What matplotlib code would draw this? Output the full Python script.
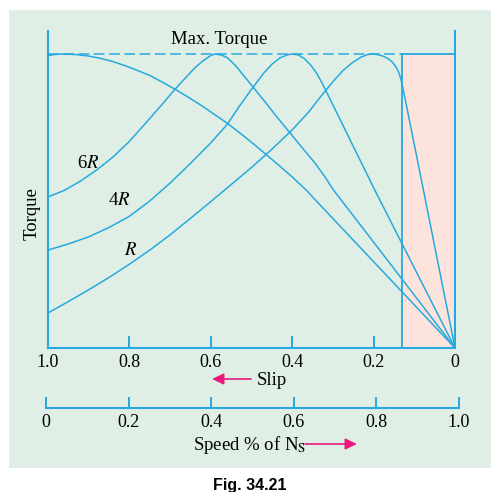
import matplotlib.pyplot as plt
from matplotlib.patches import Rectangle, FancyArrowPatch

plt.rcParams['font.family'] = 'Liberation Serif'
plt.rcParams['mathtext.fontset'] = 'stix'

W, H = 496, 492
BLUE = '#27a9df'
MAGENTA = '#e8197f'
GREEN_BG = '#e0efe5'
PINK_BG = '#fce4dc'

# torque/slip curves, torque as fraction of max torque
slip_a = [1.0, 0.98, 0.96, 0.93, 0.90, 0.87, 0.84, 0.81, 0.78, 0.75, 0.72, 0.69,
          0.66, 0.63, 0.60, 0.56, 0.53, 0.50, 0.47, 0.44, 0.40, 0.364, 0.344, 0.0]
torq_a = [0.995, 0.999, 1.0, 0.998, 0.993, 0.985, 0.974, 0.960, 0.944, 0.927, 0.905, 0.882,
          0.857, 0.831, 0.803, 0.765, 0.733, 0.700, 0.665, 0.630, 0.582, 0.535, 0.505, 0.0]

slip_6r = [1.0, 0.96, 0.92, 0.88, 0.84, 0.80, 0.76, 0.72, 0.69, 0.66, 0.64, 0.62,
           0.60, 0.59, 0.575, 0.56, 0.54, 0.52, 0.50, 0.47, 0.44, 0.405, 0.37, 0.344,
           0.32, 0.30, 0.0]
torq_6r = [0.514, 0.536, 0.568, 0.606, 0.650, 0.703, 0.765, 0.828, 0.877, 0.922, 0.952, 0.976,
           0.995, 1.0, 0.997, 0.988, 0.962, 0.928, 0.894, 0.843, 0.790, 0.731, 0.672, 0.629,
           0.583, 0.540, 0.0]

slip_4r = [1.0, 0.95, 0.90, 0.85, 0.80, 0.75, 0.70, 0.65, 0.60, 0.56, 0.53, 0.50,
           0.47, 0.45, 0.43, 0.41, 0.40, 0.385, 0.37, 0.355, 0.34, 0.325, 0.31, 0.197, 0.0]
torq_4r = [0.333, 0.354, 0.378, 0.410, 0.448, 0.500, 0.561, 0.628, 0.698, 0.760, 0.822, 0.880,
           0.935, 0.965, 0.987, 0.998, 1.0, 0.997, 0.984, 0.963, 0.935, 0.897, 0.855, 0.537, 0.0]

slip_r = [1.0, 0.95, 0.90, 0.85, 0.80, 0.75, 0.70, 0.65, 0.60, 0.55, 0.50, 0.45,
          0.40, 0.36, 0.33, 0.30, 0.275, 0.25, 0.23, 0.215, 0.204, 0.19, 0.177, 0.165,
          0.155, 0.147, 0.140, 0.134, 0.128, 0.12, 0.081, 0.0]
torq_r = [0.119, 0.158, 0.198, 0.240, 0.285, 0.333, 0.385, 0.441, 0.498, 0.556, 0.614, 0.676,
          0.742, 0.802, 0.855, 0.906, 0.944, 0.973, 0.990, 0.998, 1.0, 0.998, 0.993, 0.985,
          0.974, 0.960, 0.943, 0.920, 0.885, 0.830, 0.561, 0.0]

stall_slip = 0.13
max_torque = 1.0

slip_ticks = [1.0, 0.8, 0.6, 0.4, 0.2, 0.0]
slip_labels = ['1.0', '0.8', '0.6', '0.4', '0.2', '0']
speed_ticks = [0.0, 0.2, 0.4, 0.6, 0.8, 1.0]
speed_labels = ['0', '0.2', '0.4', '0.6', '0.8', '1.0']

curve_labels = [('6$R$', 0.902, 0.629), ('4$R$', 0.826, 0.503), ('$R$', 0.796, 0.330)]


def fx(x):
    return x / W


def fy(y):
    return 1 - y / H


fig = plt.figure(figsize=(W / 100, H / 100), dpi=100)
fig.patches.append(Rectangle((fx(9), fy(468)), 482 / W, 458 / H, transform=fig.transFigure,
                             facecolor=GREEN_BG, edgecolor='none', zorder=-5))

ax = fig.add_axes([fx(48), fy(348), 407 / W, 317.5 / H])
ax.patch.set_visible(False)
ax.set_xlim(1, 0)
ax.set_ylim(0, 1.08)

ax.fill_between([0, stall_slip], 0, max_torque, color=PINK_BG, lw=0, zorder=0)
ax.plot([stall_slip, stall_slip], [0, max_torque], color=BLUE, lw=1.3)
ax.plot([1.0, stall_slip], [max_torque, max_torque], color=BLUE, lw=1.1, dashes=(7, 3))
ax.plot([stall_slip, 0], [max_torque, max_torque], color=BLUE, lw=1.3)

for s, t in [(slip_a, torq_a), (slip_6r, torq_6r), (slip_4r, torq_4r), (slip_r, torq_r)]:
    ax.plot(s, t, color=BLUE, lw=1.1, solid_joinstyle='round')

for txt, s, t in curve_labels:
    ax.text(s, t, txt, fontsize=13.5, ha='center', va='center')

for side in ['left', 'right', 'bottom']:
    ax.spines[side].set_color(BLUE)
    ax.spines[side].set_linewidth(1.5)
ax.spines['top'].set_visible(False)
ax.set_yticks([])
ax.set_xticks(slip_ticks)
ax.set_xticklabels(slip_labels)
ax.tick_params(axis='x', direction='in', length=8.5, width=1.4, color=BLUE,
               labelsize=13, pad=4)

# speed scale underneath
ax2 = fig.add_axes([fx(46), fy(408), 413 / W, 0.001])
ax2.patch.set_visible(False)
for side in ['left', 'right', 'top']:
    ax2.spines[side].set_visible(False)
ax2.spines['bottom'].set_color(BLUE)
ax2.spines['bottom'].set_linewidth(1.5)
ax2.set_xlim(0, 1)
ax2.set_yticks([])
ax2.set_xticks(speed_ticks)
ax2.set_xticklabels(speed_labels)
ax2.tick_params(axis='x', direction='in', length=8, width=1.4, color=BLUE,
                labelsize=13, pad=4)

fig.text(fx(219), fy(43.5), 'Max. Torque', fontsize=13.5, ha='center', va='baseline')
fig.text(fx(32), fy(214), 'Torque', fontsize=13.5, rotation=90, ha='center', va='center')
fig.text(fx(257), fy(385), 'Slip', fontsize=13.5, ha='left', va='baseline')
fig.text(fx(193), fy(450), 'Speed % of N$_\\mathrm{S}$', fontsize=13.5, ha='left', va='baseline')
fig.text(fx(250), fy(478), 'Fig. 34.21', fontsize=11.5, fontweight='bold',
         family='Liberation Sans', ha='center', va='top')

for x0, x1, y in [(251, 212, 379), (305, 357, 444)]:
    fig.add_artist(FancyArrowPatch((fx(x0), fy(y)), (fx(x1), fy(y)), transform=fig.transFigure,
                                   arrowstyle='-|>,head_length=0.5,head_width=0.24',
                                   mutation_scale=14, color=MAGENTA, lw=1.2,
                                   shrinkA=0, shrinkB=0))

fig.savefig('out.png', dpi=100)
